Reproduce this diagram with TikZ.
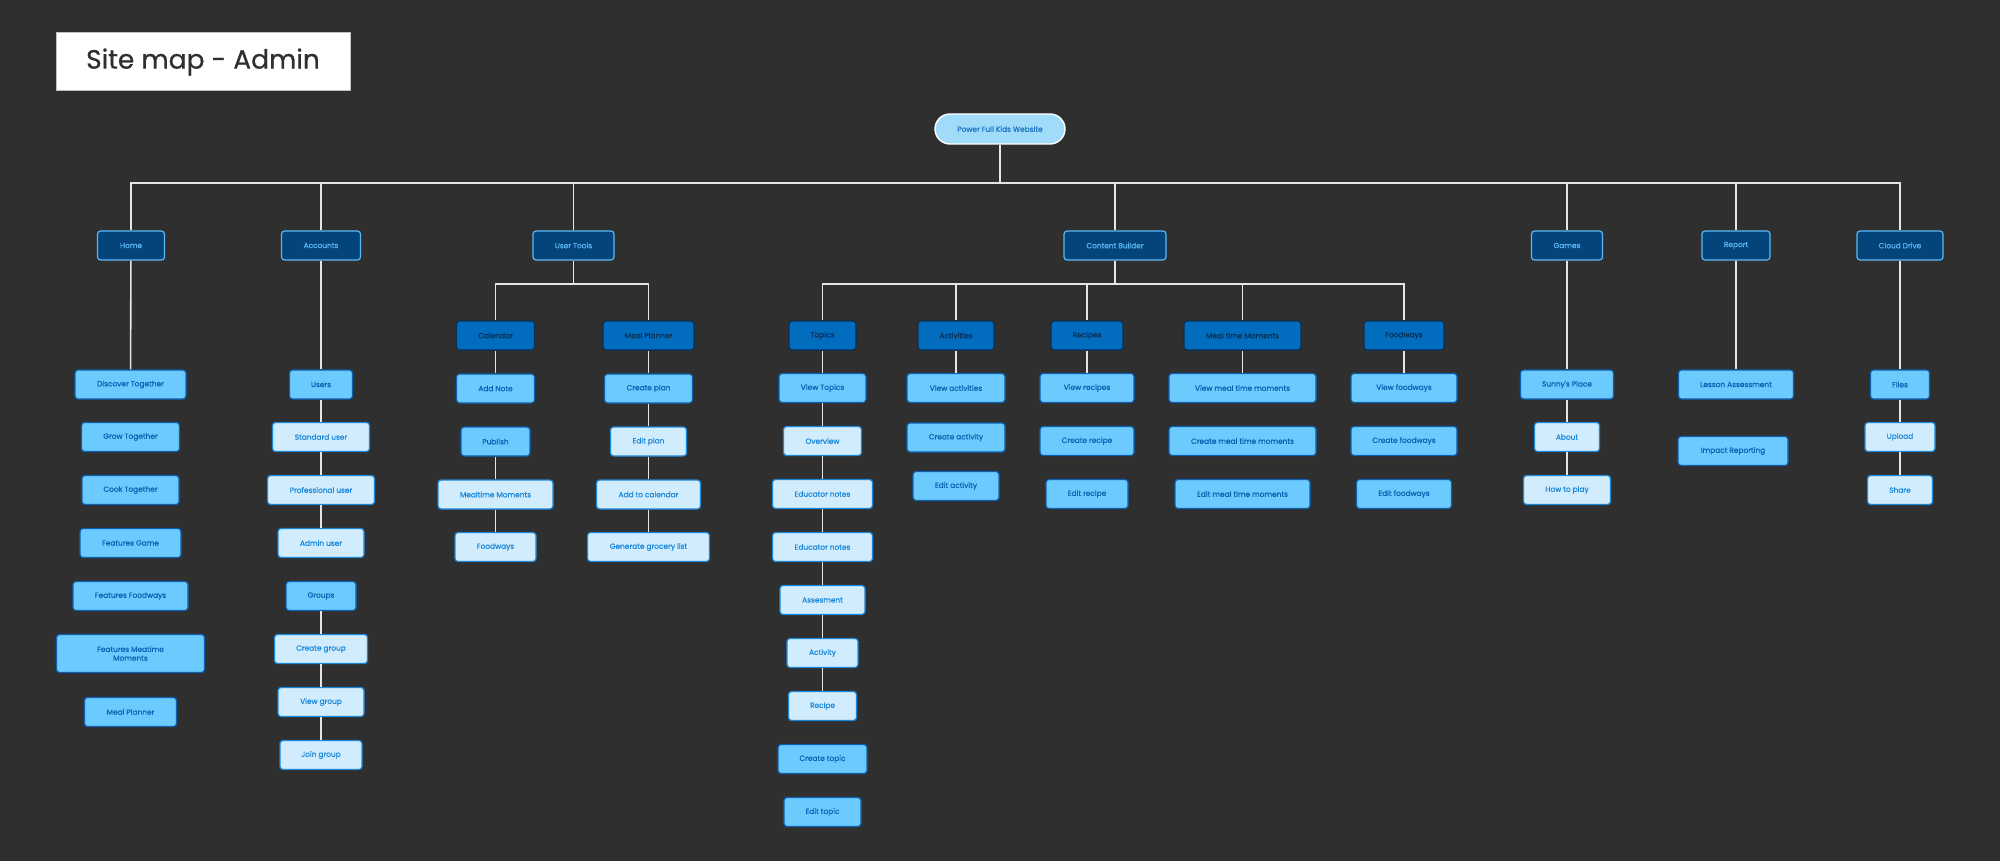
\documentclass[tikz,border=0pt]{standalone}
\usepackage{fontspec}
\setmainfont{Poppins}
\newfontfamily\medfont{Poppins}[FakeBold=0.6]
\definecolor{bgc}{HTML}{2F2F2F}
\definecolor{pillc}{HTML}{A0DCFA}
\definecolor{pilltxt}{HTML}{1C74C4}
\definecolor{navyc}{HTML}{03447A}
\definecolor{skyc}{HTML}{5BB9F7}
\definecolor{midc}{HTML}{026CBF}
\definecolor{deepc}{HTML}{0A2F52}
\definecolor{leafc}{HTML}{6CCBFE}
\definecolor{leafd}{HTML}{0B60B2}
\definecolor{palec}{HTML}{D0ECFD}
\definecolor{paled}{HTML}{1A88DA}
\begin{document}
\begin{tikzpicture}[x=1pt,y=-1pt,
  box/.style={rectangle,rounded corners=3pt,line width=1.2pt,minimum height=29,inner sep=0pt,align=center,font=\medfont\fontsize{7.4}{8.8}\selectfont},
  top/.style={box,fill=navyc,draw=skyc,text=skyc},
  sub/.style={box,fill=midc,draw=deepc,text=deepc},
  leaf/.style={box,fill=leafc,draw=leafd,text=leafd},
  pale/.style={box,fill=palec,draw=paled,text=paled},
  wire/.style={draw=white!90!black,line width=1.6pt}]
\fill[bgc] (0,0) rectangle (2000,861);
\useasboundingbox (0,0) rectangle (2000,861);
\node[fill=white,draw=black!25,line width=1pt,minimum width=294,minimum height=58,inner sep=0pt,text=bgc,font=\medfont\fontsize{26.5}{30}\selectfont] (S) at (203,62) {Site map - Admin};
\node[rectangle,rounded corners=15pt,fill=pillc,draw=white,line width=1.4pt,minimum width=130,minimum height=30,inner sep=0pt,text=pilltxt,font=\medfont\fontsize{7.4}{8.8}\selectfont] (W) at (1000,129) {Power Full Kids Website};
% first level
\node[top,minimum width=67] (H) at (131,245.5) {Home};
\node[top,minimum width=79] (A) at (321,245.5) {Accounts};
\node[top,minimum width=81] (U) at (573.5,245.5) {User Tools};
\node[top,minimum width=102] (B) at (1115,245.5) {Content Builder};
\node[top,minimum width=71] (G) at (1567,245.5) {Games};
\node[top,minimum width=68] (Rp) at (1736,245.5) {Report};
\node[top,minimum width=86] (D) at (1900,245.5) {Cloud Drive};
\coordinate (bus) at (0,183);
\draw[wire] (W) -- (W |- bus);
\draw[wire] (H.north) -- (H.north |- bus) -- (D.north |- bus) -- (D.north);
\draw[wire] (A.north) -- (A.north |- bus);
\draw[wire] (U.north) -- (U.north |- bus);
\draw[wire] (B.north) -- (B.north |- bus);
\draw[wire] (G.north) -- (G.north |- bus);
\draw[wire] (Rp.north) -- (Rp.north |- bus);
% Home
\node[leaf,minimum width=111] (H1) at (130.5,384.5) {Discover Together};
\node[leaf,minimum width=98] (H2) at (130.5,437) {Grow Together};
\node[leaf,minimum width=97] (H3) at (130.5,490) {Cook Together};
\node[leaf,minimum width=101] (H4) at (130.5,543) {Features Game};
\node[leaf,minimum width=115] (H5) at (130.5,596) {Features Foodways};
\node[leaf,minimum width=148,minimum height=38] (H6) at (130.5,653.5) {Features Meatime\\Moments};
\node[leaf,minimum width=92] (H7) at (130.5,712) {Meal Planner};
\draw[wire] (H) -- (H1);
% Accounts
\node[leaf,minimum width=63] (A1) at (321,384.5) {Users};
\node[pale,minimum width=97] (A2) at (321,437) {Standard user};
\node[pale,minimum width=107] (A3) at (321,490) {Professional user};
\node[pale,minimum width=86] (A4) at (321,543) {Admin user};
\node[leaf,minimum width=70] (A5) at (321,596) {Groups};
\node[pale,minimum width=93] (A6) at (321,649) {Create group};
\node[pale,minimum width=86] (A7) at (321,702) {View group};
\node[pale,minimum width=82] (A8) at (321,755) {Join group};
\draw[wire] (A) -- (A1);
\draw[wire] (A1) -- (A2);
\draw[wire] (A2) -- (A3);
\draw[wire] (A3) -- (A4);
\draw[wire] (A5) -- (A6);
\draw[wire] (A6) -- (A7);
\draw[wire] (A7) -- (A8);
% User Tools
\node[sub,minimum width=78] (C) at (495.5,335.5) {Calendar};
\node[sub,minimum width=91] (P) at (648.5,335.5) {Meal Planner};
\coordinate (ubus) at (0,284);
\draw[wire] (U) -- (U |- ubus);
\draw[wire] (C.north) -- (C.north |- ubus) -- (P.north |- ubus) -- (P.north);
\node[leaf,minimum width=78] (C1) at (495.5,388.5) {Add Note};
\node[leaf,minimum width=69] (C2) at (495.5,441.5) {Publish};
\node[pale,minimum width=115] (C3) at (495.5,494.5) {Mealtime Moments};
\node[pale,minimum width=81] (C4) at (495.5,547) {Foodways};
\draw[wire] (C) -- (C1);
\draw[wire] (C2) -- (C3);
\draw[wire] (C3) -- (C4);
\node[leaf,minimum width=88] (P1) at (648.5,388.5) {Create plan};
\node[pale,minimum width=76] (P2) at (648.5,441.5) {Edit plan};
\node[pale,minimum width=104] (P3) at (648.5,494.5) {Add to calendar};
\node[pale,minimum width=122] (P4) at (648.5,547) {Generate grocery list};
\draw[wire] (P) -- (P1);
\draw[wire] (P1) -- (P2);
\draw[wire] (P2) -- (P3);
\draw[wire] (P3) -- (P4);
% Content Builder
\node[sub,minimum width=67] (T) at (822.5,335.5) {Topics};
\node[sub,minimum width=76] (V) at (956,335.5) {Activities};
\node[sub,minimum width=72] (R) at (1087,335.5) {Recipes};
\node[sub,minimum width=117] (M) at (1242.5,335.5) {Meal time Moments};
\node[sub,minimum width=80] (F) at (1404,335.5) {Foodways};
\coordinate (bbus) at (0,284);
\draw[wire] (B) -- (B |- bbus);
\draw[wire] (T.north) -- (T.north |- bbus) -- (F.north |- bbus) -- (F.north);
\draw[wire] (V.north) -- (V.north |- bbus);
\draw[wire] (R.north) -- (R.north |- bbus);
\draw[wire] (M.north) -- (M.north |- bbus);
\node[leaf,minimum width=87] (T1) at (822.5,388) {View Topics};
\node[pale,minimum width=78] (T2) at (822.5,441) {Overview};
\node[pale,minimum width=100] (T3) at (822.5,494) {Educator notes};
\node[pale,minimum width=100] (T4) at (822.5,547) {Educator notes};
\node[pale,minimum width=85] (T5) at (822.5,600) {Assesment};
\node[pale,minimum width=71] (T6) at (822.5,653) {Activity};
\node[pale,minimum width=68] (T7) at (822.5,706) {Recipe};
\node[leaf,minimum width=89] (T8) at (822.5,759) {Create topic};
\node[leaf,minimum width=77] (T9) at (822.5,812) {Edit topic};
\draw[wire] (T) -- (T1);
\draw[wire] (T1) -- (T2);
\draw[wire] (T2) -- (T3);
\draw[wire] (T3) -- (T4);
\draw[wire] (T4) -- (T5);
\draw[wire] (T5) -- (T6);
\draw[wire] (T6) -- (T7);
\node[leaf,minimum width=98] (V1) at (956,388) {View activities};
\node[leaf,minimum width=98] (V2) at (956,437.5) {Create activity};
\node[leaf,minimum width=86] (V3) at (956,486) {Edit activity};
\draw[wire] (V) -- (V1);
\node[leaf,minimum width=94] (R1) at (1087,388) {View recipes};
\node[leaf,minimum width=94] (R2) at (1087,441) {Create recipe};
\node[leaf,minimum width=82] (R3) at (1087,494) {Edit recipe};
\draw[wire] (R) -- (R1);
\node[leaf,minimum width=147] (M1) at (1242.5,388) {View meal time moments};
\node[leaf,minimum width=147] (M2) at (1242.5,441) {Create meal time moments};
\node[leaf,minimum width=135] (M3) at (1242.5,494) {Edit meal time moments};
\draw[wire] (M) -- (M1);
\node[leaf,minimum width=106] (F1) at (1404,388) {View foodways};
\node[leaf,minimum width=106] (F2) at (1404,441) {Create foodways};
\node[leaf,minimum width=95] (F3) at (1404,494) {Edit foodways};
\draw[wire] (F) -- (F1);
% Games, Report, Cloud Drive
\node[leaf,minimum width=93] (G1) at (1567,384.5) {Sunny's Place};
\node[pale,minimum width=65] (G2) at (1567,437) {About};
\node[pale,minimum width=87] (G3) at (1567,490) {How to play};
\draw[wire] (G) -- (G1);
\draw[wire] (G1) -- (G2);
\draw[wire] (G2) -- (G3);
\node[leaf,minimum width=115] (Rp1) at (1736,384.5) {Lesson Assessment};
\node[leaf,minimum width=110] (Rp2) at (1733,451) {Impact Reporting};
\draw[wire] (Rp) -- (Rp1);
\node[leaf,minimum width=59] (D1) at (1900,384.5) {Files};
\node[pale,minimum width=70] (D2) at (1900,437) {Upload};
\node[pale,minimum width=65] (D3) at (1900,490) {Share};
\draw[wire] (D) -- (D1);
\draw[wire] (D1) -- (D2);
\draw[wire] (D2) -- (D3);
%\draw[red] (0,183) -- (2000,183);
\end{tikzpicture}
\end{document}
